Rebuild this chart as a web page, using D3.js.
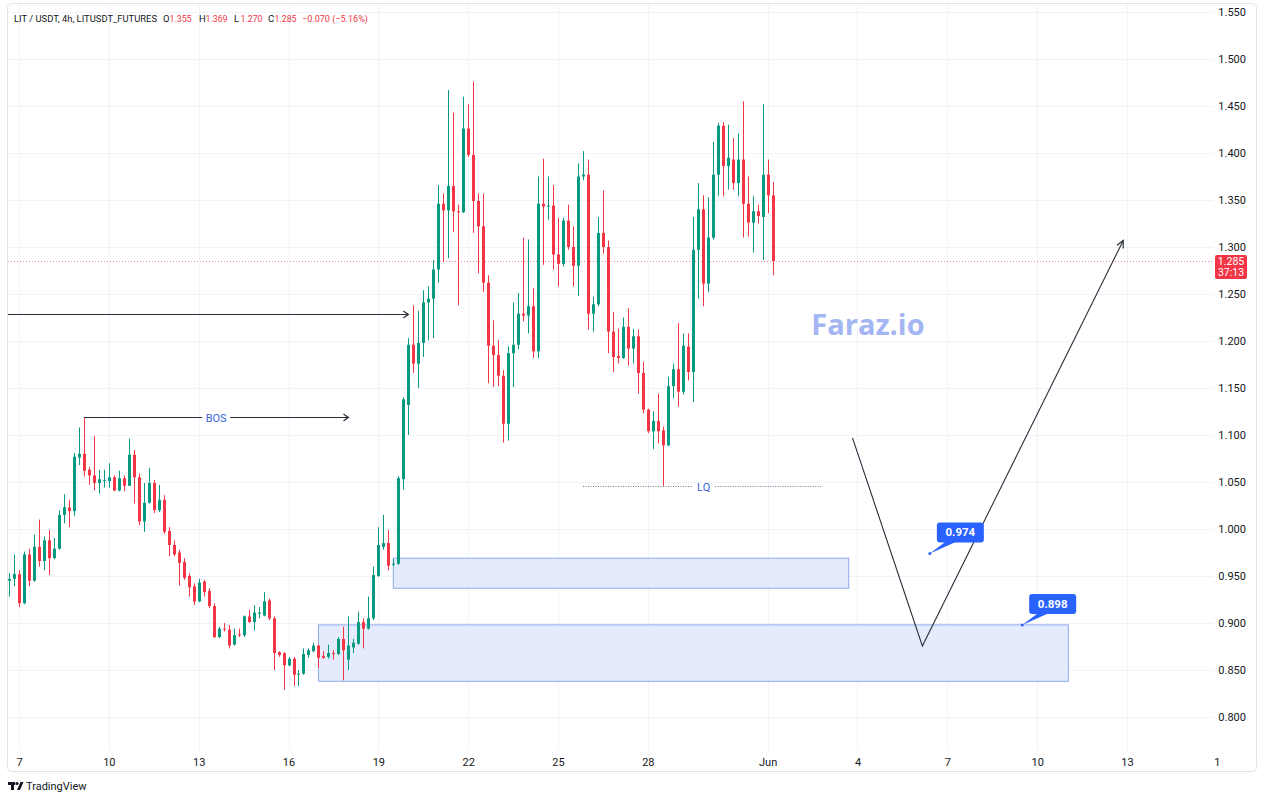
<!DOCTYPE html>
<html>
<head>
<meta charset="utf-8">
<script src="https://cdn.jsdelivr.net/npm/d3@7"></script>
<style>
  body { margin: 0; background: #fff; }
  svg { font-family: Roboto, "Liberation Sans", sans-serif; }
</style>
</head>
<body>
<svg id="chart" width="1265" height="800"></svg>
<script>
// LIT/USDT 4h candles, first bar 6 May 16:00 UTC
const firstBar = Date.UTC(2023, 4, 6, 16);
const barMs = 4 * 3600 * 1000;

const opens = [
  0.945, 0.947, 0.952, 0.921, 0.973, 0.945, 0.981, 0.966, 0.988, 0.969,
  0.979, 1.015, 1.023, 1.019, 1.076, 1.080, 1.063, 1.057, 1.049, 1.051,
  1.051, 1.055, 1.041, 1.054, 1.046, 1.079, 1.055, 1.008, 1.028, 1.049,
  1.020, 1.031, 0.998, 0.983, 0.975, 0.965, 0.950, 0.939, 0.923, 0.944,
  0.934, 0.918, 0.885, 0.894, 0.893, 0.877, 0.888, 0.887, 0.907, 0.901,
  0.910, 0.908, 0.924, 0.905, 0.869, 0.868, 0.855, 0.862, 0.845, 0.846,
  0.866, 0.870, 0.876, 0.865, 0.864, 0.868, 0.867, 0.883, 0.861, 0.874,
  0.878, 0.901, 0.894, 0.905, 0.950, 0.981, 0.985, 0.962, 0.963, 1.053,
  1.132, 1.196, 1.176, 1.198, 1.241, 1.245, 1.276, 1.346, 1.339, 1.365,
  1.338, 1.337, 1.426, 1.398, 1.349, 1.322, 1.262, 1.195, 1.185, 1.163,
  1.112, 1.187, 1.196, 1.229, 1.227, 1.237, 1.189, 1.346, 1.343, 1.344,
  1.292, 1.282, 1.328, 1.300, 1.280, 1.375, 1.377, 1.229, 1.239, 1.315,
  1.300, 1.210, 1.184, 1.182, 1.215, 1.192, 1.205, 1.166, 1.127, 1.104,
  1.115, 1.105, 1.089, 1.152, 1.170, 1.146, 1.194, 1.167, 1.297, 1.340,
  1.261, 1.310, 1.377, 1.429, 1.386, 1.393, 1.368, 1.393, 1.346, 1.326,
  1.338, 1.332, 1.377, 1.355
];
const highs = [
  0.953, 0.973, 0.956, 0.976, 0.979, 0.994, 1.010, 0.992, 0.999, 0.990,
  1.020, 1.037, 1.031, 1.081, 1.108, 1.119, 1.066, 1.099, 1.063, 1.063,
  1.070, 1.057, 1.062, 1.057, 1.096, 1.084, 1.059, 1.049, 1.065, 1.052,
  1.047, 1.036, 1.002, 0.988, 0.978, 0.969, 0.953, 0.942, 0.947, 0.946,
  0.937, 0.921, 0.896, 0.900, 0.898, 0.894, 0.894, 0.908, 0.914, 0.919,
  0.917, 0.933, 0.926, 0.907, 0.870, 0.869, 0.864, 0.864, 0.850, 0.873,
  0.873, 0.879, 0.877, 0.870, 0.877, 0.871, 0.885, 0.896, 0.907, 0.883,
  0.912, 0.905, 0.928, 0.960, 1.002, 1.015, 0.999, 0.968, 1.056, 1.140,
  1.203, 1.238, 1.232, 1.254, 1.258, 1.286, 1.366, 1.357, 1.467, 1.443,
  1.345, 1.460, 1.452, 1.476, 1.357, 1.357, 1.270, 1.222, 1.201, 1.169,
  1.194, 1.241, 1.251, 1.310, 1.308, 1.256, 1.375, 1.394, 1.375, 1.366,
  1.331, 1.331, 1.345, 1.322, 1.389, 1.402, 1.393, 1.247, 1.332, 1.360,
  1.307, 1.231, 1.213, 1.225, 1.235, 1.213, 1.212, 1.178, 1.128, 1.125,
  1.144, 1.109, 1.162, 1.176, 1.219, 1.208, 1.208, 1.332, 1.368, 1.355,
  1.353, 1.412, 1.432, 1.433, 1.430, 1.416, 1.421, 1.455, 1.375, 1.354,
  1.345, 1.452, 1.393, 1.369
];
const lows = [
  0.928, 0.939, 0.917, 0.920, 0.939, 0.944, 0.960, 0.956, 0.951, 0.968,
  0.978, 1.006, 1.002, 1.014, 1.068, 1.056, 1.047, 1.041, 1.038, 1.044,
  1.044, 1.040, 1.040, 1.040, 1.046, 1.027, 1.004, 0.997, 1.027, 1.017,
  1.018, 0.995, 0.971, 0.971, 0.940, 0.946, 0.928, 0.919, 0.922, 0.928,
  0.916, 0.884, 0.884, 0.891, 0.873, 0.876, 0.885, 0.885, 0.900, 0.892,
  0.905, 0.907, 0.903, 0.850, 0.864, 0.829, 0.854, 0.833, 0.833, 0.845,
  0.863, 0.869, 0.852, 0.862, 0.862, 0.861, 0.866, 0.839, 0.850, 0.868,
  0.877, 0.873, 0.893, 0.903, 0.949, 0.978, 0.956, 0.960, 0.962, 1.042,
  1.100, 1.166, 1.150, 1.183, 1.201, 1.203, 1.262, 1.284, 1.288, 1.316,
  1.238, 1.336, 1.396, 1.315, 1.272, 1.252, 1.155, 1.151, 1.152, 1.092,
  1.094, 1.151, 1.191, 1.221, 1.208, 1.182, 1.182, 1.281, 1.329, 1.276,
  1.258, 1.279, 1.297, 1.258, 1.248, 1.371, 1.212, 1.210, 1.237, 1.293,
  1.187, 1.167, 1.176, 1.181, 1.174, 1.176, 1.144, 1.123, 1.102, 1.085,
  1.091, 1.046, 1.088, 1.139, 1.130, 1.143, 1.158, 1.135, 1.245, 1.237,
  1.252, 1.308, 1.354, 1.354, 1.361, 1.361, 1.354, 1.310, 1.311, 1.294,
  1.325, 1.286, 1.336, 1.270
];
const closes = [
  0.947, 0.952, 0.921, 0.973, 0.945, 0.981, 0.966, 0.988, 0.969, 0.979,
  1.015, 1.023, 1.019, 1.077, 1.080, 1.062, 1.057, 1.049, 1.053, 1.052,
  1.055, 1.041, 1.054, 1.046, 1.079, 1.055, 1.008, 1.028, 1.049, 1.020,
  1.031, 0.997, 0.983, 0.973, 0.964, 0.948, 0.938, 0.923, 0.943, 0.933,
  0.918, 0.885, 0.894, 0.893, 0.876, 0.887, 0.887, 0.907, 0.901, 0.911,
  0.911, 0.923, 0.905, 0.868, 0.866, 0.855, 0.862, 0.845, 0.846, 0.867,
  0.871, 0.876, 0.863, 0.863, 0.868, 0.867, 0.883, 0.871, 0.876, 0.879,
  0.901, 0.894, 0.905, 0.951, 0.983, 0.985, 0.961, 0.963, 1.054, 1.138,
  1.196, 1.176, 1.198, 1.241, 1.245, 1.276, 1.346, 1.339, 1.365, 1.338,
  1.337, 1.426, 1.398, 1.349, 1.322, 1.262, 1.195, 1.185, 1.163, 1.112,
  1.187, 1.196, 1.229, 1.227, 1.237, 1.189, 1.346, 1.343, 1.344, 1.292,
  1.282, 1.328, 1.300, 1.280, 1.375, 1.377, 1.229, 1.239, 1.315, 1.300,
  1.210, 1.183, 1.182, 1.215, 1.192, 1.205, 1.166, 1.127, 1.104, 1.115,
  1.104, 1.089, 1.152, 1.170, 1.146, 1.195, 1.167, 1.297, 1.340, 1.261,
  1.310, 1.377, 1.429, 1.386, 1.395, 1.368, 1.393, 1.346, 1.326, 1.338,
  1.333, 1.377, 1.355, 1.285
];

const priceTicks = [0.80, 0.85, 0.90, 0.95, 1.00, 1.05, 1.10, 1.15, 1.20, 1.25, 1.30, 1.35, 1.40, 1.45, 1.50, 1.55];
const timeTicks = ["2023-05-07", "2023-05-10", "2023-05-13", "2023-05-16", "2023-05-19", "2023-05-22",
  "2023-05-25", "2023-05-28", "2023-06-01", "2023-06-04", "2023-06-07", "2023-06-10", "2023-06-13", "2023-06-16"];
const timeTickLabels = ["7", "10", "13", "16", "19", "22", "25", "28", "Jun", "4", "7", "10", "13", "1"];

const title = "LIT / USDT, 4h, LITUSDT_FUTURES";
const quoteLabels = [["O", "1.355"], ["H", "1.369"], ["L", "1.270"], ["C", "1.285"]];
const changeLabel = "\u22120.070 (\u22125.16%)";
const countdown = "37:13";

// drawings: [time, price]
const zones = [
  {from: "2023-05-19T12:00Z", to: "2023-06-03T17:00Z", top: 0.969, bottom: 0.937},
  {from: "2023-05-17T00:00Z", to: "2023-06-11T01:00Z", top: 0.898, bottom: 0.838}
];
const bosLine = {from: "2023-05-09T04:00Z", to: "2023-05-18T00:00Z", price: 1.119, label: "BOS"};
const lqLine = {from: "2023-05-25T20:00Z", to: "2023-06-02T19:00Z", price: 1.046, label: "LQ"};
const breakArrow = {from: "2023-05-06T00:00Z", to: "2023-05-20T00:00Z", price: 1.229};
const pathPoints = [["2023-06-03T20:00Z", 1.097], ["2023-06-06T04:00Z", 0.8755], ["2023-06-12T21:00Z", 1.307]];
const callouts = [["2023-06-06T10:00Z", 0.974], ["2023-06-09T12:00Z", 0.898]];

const bars = opens.map((o, i) => ({
  t: new Date(firstBar + i * barMs), o, h: highs[i], l: lows[i], c: closes[i]
}));
const last = bars[bars.length - 1];

const up = "#089981", down = "#f23645", ink = "#131722";
const pane = {left: 8, right: 1213, top: 5, bottom: 750};

const svg = d3.select("#chart");
const x = d3.scaleUtc()
  .domain([new Date("2023-05-07T00:00Z"), new Date("2023-06-13T00:00Z")])
  .range([19, 1127]);
const y = d3.scaleLinear().domain([0.8, 1.55]).range([717, 12]);

svg.append("defs").append("clipPath").attr("id", "pane")
  .append("rect")
    .attr("x", pane.left).attr("y", pane.top)
    .attr("width", pane.right - pane.left).attr("height", pane.bottom - pane.top);

// frame
svg.append("rect")
  .attr("x", 7.5).attr("y", 3.5).attr("width", 1249).attr("height", 768)
  .attr("rx", 4).attr("fill", "none").attr("stroke", "#e0e3eb");

// grid
const grid = svg.append("g").attr("clip-path", "url(#pane)");
grid.selectAll(".hg").data(priceTicks).join("line")
  .attr("x1", pane.left).attr("x2", pane.right)
  .attr("y1", d => Math.round(y(d)) + 0.5).attr("y2", d => Math.round(y(d)) + 0.5)
  .attr("stroke", "#f0f3fa");
grid.selectAll(".vg").data(timeTicks).join("line")
  .attr("x1", d => Math.round(x(new Date(d + "T00:00Z"))) + 0.5)
  .attr("x2", d => Math.round(x(new Date(d + "T00:00Z"))) + 0.5)
  .attr("y1", pane.top).attr("y2", pane.bottom)
  .attr("stroke", "#f0f3fa");

// price axis
const yAxis = svg.append("g").attr("transform", "translate(1246,0)")
  .call(d3.axisRight(y).tickValues(priceTicks).tickFormat(d3.format(".3f")).tickSize(0));
yAxis.select(".domain").remove();
yAxis.selectAll("text")
  .attr("x", 0).attr("text-anchor", "end")
  .attr("fill", ink).attr("font-size", 11)
  .attr("font-family", "Roboto, 'Liberation Sans', sans-serif");

// time axis
const xAxis = svg.append("g").attr("transform", "translate(0,752)")
  .call(d3.axisBottom(x).tickValues(timeTicks.map(d => new Date(d + "T00:00Z")))
    .tickFormat((d, i) => timeTickLabels[i]).tickSize(0));
xAxis.select(".domain").remove();
xAxis.selectAll("text")
  .attr("y", 6).attr("fill", ink).attr("font-size", 11)
  .attr("font-family", "Roboto, 'Liberation Sans', sans-serif");

const plot = svg.append("g").attr("clip-path", "url(#pane)");

// zones
plot.selectAll(".zone").data(zones).join("rect")
  .attr("x", d => x(new Date(d.from)))
  .attr("width", d => x(new Date(d.to)) - x(new Date(d.from)))
  .attr("y", d => y(d.top))
  .attr("height", d => y(d.bottom) - y(d.top))
  .attr("fill", "#e3ebfd").attr("stroke", "#8ea9e8").attr("stroke-width", 1);

// current price line
plot.append("line")
  .attr("x1", pane.left).attr("x2", pane.right)
  .attr("y1", Math.round(y(last.c)) + 0.5).attr("y2", Math.round(y(last.c)) + 0.5)
  .attr("stroke", "#ec8a95").attr("stroke-width", 1).attr("stroke-dasharray", "1,2");

// watermark
plot.append("text")
  .attr("x", 868).attr("y", 335).attr("text-anchor", "middle")
  .attr("font-family", "'Open Sans', sans-serif").attr("font-weight", 700)
  .attr("font-size", 29).attr("fill", "#a3b5f2")
  .text("Faraz.io");

// candles
const candle = plot.selectAll(".bar").data(bars).join("g");
candle.append("line")
  .attr("x1", d => Math.round(x(d.t)) + 0.5).attr("x2", d => Math.round(x(d.t)) + 0.5)
  .attr("y1", d => y(d.h)).attr("y2", d => y(d.l))
  .attr("stroke", d => d.c >= d.o ? up : down).attr("stroke-width", 1);
candle.append("rect")
  .attr("x", d => Math.round(x(d.t)) - 1)
  .attr("width", 3)
  .attr("y", d => y(Math.max(d.o, d.c)))
  .attr("height", d => Math.max(1, Math.abs(y(d.o) - y(d.c))))
  .attr("fill", d => d.c >= d.o ? up : down);

// arrow helpers
function chevron(g, x0, y0, x1, y1, len, spread) {
  const a = Math.atan2(y1 - y0, x1 - x0);
  const p1 = [x1 - len * Math.cos(a - spread), y1 - len * Math.sin(a - spread)];
  const p2 = [x1 - len * Math.cos(a + spread), y1 - len * Math.sin(a + spread)];
  g.append("path")
    .attr("d", `M${p1[0]},${p1[1]}L${x1},${y1}L${p2[0]},${p2[1]}`)
    .attr("fill", "none").attr("stroke", "#2a2e39").attr("stroke-width", 1.2);
}

const draw = plot.append("g");

// BOS line with text gap
{
  const x0 = x(new Date(bosLine.from)), x1 = x(new Date(bosLine.to));
  const yy = Math.round(y(bosLine.price)) + 0.5, mid = (x0 + x1) / 2;
  draw.append("path").attr("d", `M${x0},${yy}H${mid - 14}M${mid + 14},${yy}H${x1}`)
    .attr("stroke", "#2a2e39").attr("stroke-width", 1);
  chevron(draw, x0, yy, x1, yy, 6, 0.6);
  draw.append("text").attr("x", mid).attr("y", yy + 4).attr("text-anchor", "middle")
    .attr("font-size", 11).attr("fill", "#3a62d6").text(bosLine.label);
}

// break arrow
{
  const x0 = x(new Date(breakArrow.from)), x1 = x(new Date(breakArrow.to));
  const yy = Math.round(y(breakArrow.price)) + 0.5;
  draw.append("line").attr("x1", x0).attr("x2", x1).attr("y1", yy).attr("y2", yy)
    .attr("stroke", "#2a2e39").attr("stroke-width", 1);
  chevron(draw, x0, yy, x1, yy, 6, 0.6);
}

// LQ dotted line
{
  const x0 = x(new Date(lqLine.from)), x1 = x(new Date(lqLine.to));
  const yy = Math.round(y(lqLine.price)) + 0.5, mid = (x0 + x1) / 2;
  draw.append("path").attr("d", `M${x0},${yy}H${mid - 10}M${mid + 13},${yy}H${x1}`)
    .attr("stroke", "#787b86").attr("stroke-width", 1).attr("stroke-dasharray", "1,1.5");
  draw.append("text").attr("x", mid + 1.5).attr("y", yy + 4).attr("text-anchor", "middle")
    .attr("font-size", 11).attr("fill", "#3a62d6").text(lqLine.label);
}

// projected path
{
  const pts = pathPoints.map(([t, p]) => [x(new Date(t)), y(p)]);
  draw.append("path").attr("d", d3.line()(pts))
    .attr("fill", "none").attr("stroke", "#2a2e39").attr("stroke-width", 1.1);
  const n = pts.length;
  chevron(draw, pts[n - 2][0], pts[n - 2][1], pts[n - 1][0], pts[n - 1][1], 8, 0.45);
}

// price callouts
callouts.forEach(([t, p]) => {
  const ax = x(new Date(t)), ay = y(p);
  const bx = ax + 7, by = ay - 31, bw = 47, bh = 20;
  const g = draw.append("g");
  g.append("path")
    .attr("d", `M${ax},${ay}L${bx + 9},${by + bh - 1}L${bx + 20},${by + bh - 1}Z`)
    .attr("fill", "#2962ff");
  g.append("rect").attr("x", bx).attr("y", by).attr("width", bw).attr("height", bh)
    .attr("rx", 3).attr("fill", "#2962ff");
  g.append("circle").attr("cx", ax).attr("cy", ay).attr("r", 1.5).attr("fill", "#2962ff");
  g.append("text").attr("x", bx + bw / 2).attr("y", by + 14).attr("text-anchor", "middle")
    .attr("font-size", 11.5).attr("font-weight", 700).attr("fill", "#fff")
    .text(d3.format(".3f")(p));
});

// last price tag
{
  const yy = Math.round(y(last.c));
  svg.append("rect").attr("x", 1215).attr("y", yy - 6).attr("width", 32).attr("height", 24)
    .attr("rx", 2).attr("fill", down);
  svg.append("text").attr("x", 1231).attr("y", yy + 4).attr("text-anchor", "middle")
    .attr("font-size", 10.5).attr("fill", "#fff").text(d3.format(".3f")(last.c));
  svg.append("text").attr("x", 1231).attr("y", yy + 15).attr("text-anchor", "middle")
    .attr("font-size", 10.5).attr("fill", "#fff").text(countdown);
}

// header: each piece placed at its own x
{
  const head = svg.append("g").attr("font-size", 9.5).attr("fill", ink);
  head.append("text").attr("x", 14).attr("y", 22)
    .attr("textLength", 143).attr("lengthAdjust", "spacingAndGlyphs").text(title);
  const keyX = [163, 199, 234, 268];
  quoteLabels.forEach(([k, v], i) => {
    head.append("text").attr("x", keyX[i]).attr("y", 22).attr("fill", ink).text(k);
    head.append("text").attr("x", keyX[i] + 6.5).attr("y", 22).attr("fill", down)
      .attr("textLength", 22).attr("lengthAdjust", "spacingAndGlyphs").text(v);
  });
  head.append("text").attr("x", 302).attr("y", 22).attr("fill", down)
    .attr("textLength", 66).attr("lengthAdjust", "spacingAndGlyphs").text(changeLabel);
}

// footer logo
{
  const logo = svg.append("g").attr("fill", ink);
  logo.append("rect").attr("x", 8).attr("y", 782).attr("width", 7).attr("height", 3);
  logo.append("rect").attr("x", 11).attr("y", 782).attr("width", 3).attr("height", 8);
  logo.append("circle").attr("cx", 17).attr("cy", 783.5).attr("r", 1.6);
  logo.append("path").attr("d", "M17,790L20.5,782H23.5L20,790Z");
  svg.append("text").attr("x", 26).attr("y", 790).attr("font-size", 11).attr("fill", ink)
    .text("TradingView");
}
</script>
</body>
</html>
